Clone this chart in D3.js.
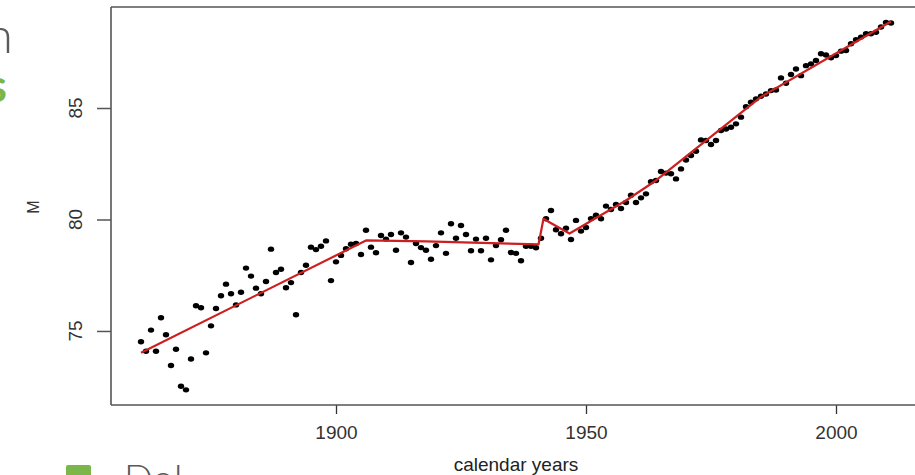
<!DOCTYPE html>
<html>
<head>
<meta charset="utf-8">
<script src="https://cdn.jsdelivr.net/npm/d3@7"></script>
<style>
  html, body { margin: 0; background: #fff; overflow: hidden; }
  svg { display: block; font-family: "Liberation Sans", Arial, sans-serif; }
</style>
</head>
<body>
<div id="chart"></div>
<script>
// observed yearly values, one per calendar year starting at firstYear
const firstYear = 1861;
const values = [
  74.52, 74.09, 75.04, 74.09, 75.59, 74.83, 73.45, 74.18, 72.52, 72.36,
  73.74, 76.13, 76.04, 74.02, 75.23, 76.01, 76.58, 77.10, 76.67,
  76.17, 76.74, 77.82, 77.46, 76.92, 76.67, 77.22, 78.67, 77.62, 77.77,
  76.94, 77.17, 75.73, 77.62, 77.95, 78.76, 78.65, 78.80, 79.04, 77.26, 78.10,
  78.39, 78.69, 78.89, 78.92, 78.43, 79.52, 78.76, 78.51, 79.28, 79.12,
  79.33, 78.62, 79.40, 79.21, 78.07, 78.92, 78.74, 78.62, 78.22, 78.83,
  79.40, 78.48, 79.81,
  79.16, 79.73, 79.33, 78.60, 79.12, 78.60, 79.16, 78.19, 78.83, 79.09,
  79.52, 78.52, 78.48, 78.15, 78.80, 78.80, 78.73, 79.16, 80.03, 80.40, 79.54,
  79.36, 79.61, 79.10, 79.96, 79.48, 79.64, 80.04, 80.19, 80.03, 80.60,
  80.45, 80.67, 80.49, 80.76, 81.09, 80.76, 80.97, 81.15, 81.69,
  81.75, 82.15, 82.08, 82.05, 81.82, 82.27, 82.67, 82.87, 83.06, 83.57,
  83.54, 83.36, 83.54, 83.99, 84.06, 84.14, 84.29, 84.59, 85.06, 85.26,
  85.41, 85.53, 85.63, 85.78, 85.81, 86.35, 86.11, 86.50, 86.75, 86.45,
  86.90, 86.98, 87.13, 87.43, 87.38, 87.25, 87.35, 87.55, 87.58, 87.88,
  88.06, 88.18, 88.33, 88.33, 88.40, 88.63, 88.84, 88.81
];

// fitted (red) line, break points
const fitYears  = [1861, 1906, 1918, 1940.5, 1941.5, 1942.5, 1946.7, 1958, 1964, 1985, 2011];
const fitValues = [74.02, 79.06, 79.02, 78.88, 80.03, 79.90, 79.37, 80.85, 81.75, 85.50, 88.88];

const xTicks = [1900, 1950, 2000];
const yTicks = [75, 80, 85];

const W = 915, H = 475;
const box = {left: 111, top: 7, right: 921, bottom: 405};

const svg = d3.select("#chart").append("svg")
  .attr("width", W)
  .attr("height", H);

const x = d3.scaleLinear().domain([1855, 2017]).range([box.left, box.right]);
const y = d3.scaleLinear().domain([71.68, 89.53]).range([box.bottom, box.top]);

const points = values.map((v, i) => ({year: firstYear + i, v: v}));
const fit = fitYears.map((yr, i) => ({year: yr, v: fitValues[i]}));

// leftovers of the slide around the plot
svg.append("text").attr("x", 13).attr("y", 53).attr("text-anchor", "end")
  .style("font-family", "Lato, 'Open Sans', sans-serif").style("font-weight", 300)
  .style("font-size", "50px").style("fill", "#5a5a5a").text("n");
svg.append("text").attr("x", 7).attr("y", 102).attr("text-anchor", "end")
  .style("font-family", "Lato, 'Open Sans', sans-serif").style("font-weight", 700)
  .style("font-size", "46px").style("fill", "#7ab648").text("s");
svg.append("rect").attr("x", 66).attr("y", 465).attr("width", 25).attr("height", 25)
  .attr("rx", 2).style("fill", "#7ab648");
svg.append("text").attr("x", 124).attr("y", 492)
  .style("font-family", "Lato, 'Open Sans', sans-serif").style("font-weight", 300)
  .style("font-size", "38px").style("fill", "#5a5a5a").text("DoI");

// axes
const xAxis = svg.append("g").attr("class", "x-axis")
  .attr("transform", "translate(0," + box.bottom + ")")
  .call(d3.axisBottom(x).tickValues(xTicks).tickSize(9).tickPadding(12).tickFormat(d3.format("d")));
xAxis.select(".domain").remove();
xAxis.selectAll("line").style("stroke", "#333").style("stroke-width", 1.3);
xAxis.selectAll("text").style("font-size", "19px").style("fill", "#333")
  .style("font-family", "'Liberation Sans', Arial, sans-serif");

const yAxis = svg.append("g").attr("class", "y-axis")
  .attr("transform", "translate(" + box.left + ",0)")
  .call(d3.axisLeft(y).tickValues(yTicks).tickSize(14).tickFormat(d3.format("d")));
yAxis.select(".domain").remove();
yAxis.selectAll("line").style("stroke", "#555").style("stroke-width", 1.5);
yAxis.selectAll("text").remove();

svg.selectAll(".ylab")
  .data(yTicks)
  .enter().append("text")
  .attr("class", "ylab")
  .attr("transform", d => "translate(82," + y(d) + ") rotate(-90)")
  .attr("text-anchor", "middle")
  .style("font-size", "19px")
  .style("fill", "#333")
  .text(d => d);

svg.append("text")
  .attr("transform", "translate(39,207) rotate(-90)")
  .attr("text-anchor", "middle")
  .style("font-size", "16px").style("fill", "#333")
  .text("M");

svg.append("text")
  .attr("x", (box.left + box.right) / 2)
  .attr("y", 471)
  .attr("text-anchor", "middle")
  .style("font-size", "19px").style("fill", "#222")
  .text("calendar years");

// plot frame: only left, top and bottom sides; the right side is outside the picture
svg.append("line")
  .attr("x1", box.left).attr("x2", W).attr("y1", box.top).attr("y2", box.top)
  .style("stroke", "#555").style("stroke-width", 1.6);
svg.append("line")
  .attr("x1", box.left).attr("x2", W).attr("y1", box.bottom).attr("y2", box.bottom)
  .style("stroke", "#555").style("stroke-width", 1.6);
svg.append("line")
  .attr("x1", box.left).attr("x2", box.left).attr("y1", box.top).attr("y2", box.bottom)
  .style("stroke", "#555").style("stroke-width", 1.6);

// points
svg.append("g").selectAll("ellipse")
  .data(points)
  .enter().append("ellipse")
  .attr("cx", d => x(d.year))
  .attr("cy", d => y(d.v))
  .attr("rx", 3.2)
  .attr("ry", 2.7)
  .style("fill", "#000");

// fitted line
const line = d3.line().x(d => x(d.year)).y(d => y(d.v));
svg.append("path")
  .datum(fit)
  .attr("d", line)
  .style("fill", "none")
  .style("stroke", "#cc1f1f")
  .style("stroke-width", 2.2)
  .style("stroke-linejoin", "round");
</script>
</body>
</html>
